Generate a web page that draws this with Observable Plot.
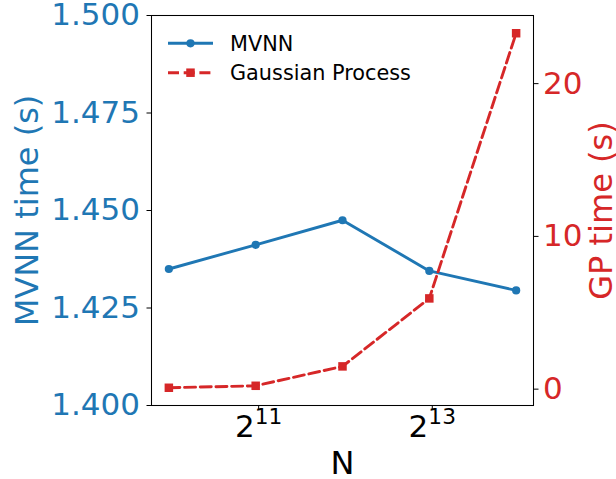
<!DOCTYPE html>
<html>
<head>
<meta charset="utf-8">
<script src="https://cdn.jsdelivr.net/npm/d3@7"></script>
<script src="https://cdn.jsdelivr.net/npm/@observablehq/plot@0.6"></script>
<style>
  body { margin: 0; background: #fff; }
  #chart { position: relative; width: 616px; height: 479px; font-family: "DejaVu Sans", sans-serif; }
  #chart > svg { position: absolute; left: 0; top: 0; }
</style>
</head>
<body>
<div id="chart"></div>
<script>
// Timing of MVNN versus a Gaussian Process as the training set size N grows.
const N = [1000, 2000, 4000, 8000, 16000];
const mvnnTime = [1.435, 1.4412, 1.4475, 1.4345, 1.4295];
const gpTime = [0.09, 0.22, 1.49, 5.94, 23.3];
const seriesNames = ["MVNN", "Gaussian Process"];
const nTicks = [2048, 8192];
const mvnnTicks = [1.4, 1.425, 1.45, 1.475, 1.5];
const gpTicks = [0, 10, 20];

const BLUE = "#1f77b4";
const RED = "#d62728";
const W = 616, H = 479;
const margins = { marginTop: 15, marginRight: 83, marginBottom: 74, marginLeft: 151 };
const LW = 2.9;
const DASH = "11,4.7";
const R_DOT = 4.1, R_SQ = 4.8;

const mvnnRows = N.map((n, i) => ({ n, t: mvnnTime[i] }));
const gpRows = N.map((n, i) => ({ n, t: gpTime[i] }));

// 5% padding around the data, in log2 space for x
const lx = d3.extent(N, (d) => Math.log2(d));
const px = (lx[1] - lx[0]) * 0.05;
const xScale = { type: "log", base: 2, domain: [2 ** (lx[0] - px), 2 ** (lx[1] + px)] };
const gy = d3.extent(gpTime);
const pg = (gy[1] - gy[0]) * 0.05;
const gpDomain = [gy[0] - pg, gy[1] + pg];

const style = { fontFamily: "DejaVu Sans, sans-serif", fontSize: "31px", background: "transparent", overflow: "visible" };

const leftPlot = Plot.plot({
  width: W, height: H, ...margins, style,
  x: xScale,
  y: { domain: [1.4, 1.5] },
  marks: [
    Plot.axisX(nTicks, { tickSize: 4.5, tickPadding: 5, tickFormat: (d) => `2^${Math.round(Math.log2(d))}`, stroke: "black", fill: "black", label: null, fontSize: 31 }),
    Plot.axisY(mvnnTicks, { tickSize: 4.5, tickPadding: 7, tickFormat: d3.format(".3f"), stroke: "black", fill: BLUE, label: null, fontSize: 31 }),
    Plot.line(mvnnRows, { x: "n", y: "t", stroke: BLUE, strokeWidth: LW }),
    Plot.dot(mvnnRows, { x: "n", y: "t", r: R_DOT, fill: BLUE }),
    Plot.frame({ stroke: "black", strokeWidth: 1.05 }),
    Plot.text(["MVNN time (s)"], { frameAnchor: "left", textAnchor: "middle", lineAnchor: "middle", rotate: -90, dx: -124, fill: BLUE, fontSize: 32 }),
    Plot.text(["N"], { frameAnchor: "bottom", textAnchor: "middle", lineAnchor: "middle", dy: 58, fill: "black", fontSize: 32 })
  ]
});

// powers of two drawn as base with a raised exponent
leftPlot.querySelectorAll('g[aria-label="x-axis tick label"] text').forEach((t) => {
  const [b, e] = t.textContent.split("^");
  t.textContent = b;
  const sup = document.createElementNS("http://www.w3.org/2000/svg", "tspan");
  sup.setAttribute("dy", "-0.6em");
  sup.setAttribute("font-size", "0.7em");
  sup.textContent = e;
  t.appendChild(sup);
});

const rightPlot = Plot.plot({
  width: W, height: H, ...margins, style,
  x: { ...xScale, axis: null },
  y: { domain: gpDomain },
  marks: [
    Plot.axisY(gpTicks, { anchor: "right", tickSize: 4.5, tickPadding: 5, stroke: "black", fill: RED, label: null, fontSize: 31 }),
    Plot.line(gpRows, { x: "n", y: "t", stroke: RED, strokeWidth: LW, strokeDasharray: DASH }),
    Plot.dot(gpRows, { x: "n", y: "t", symbol: "square", r: R_SQ, fill: RED }),
    Plot.text(["GP time (s)"], { frameAnchor: "right", textAnchor: "middle", lineAnchor: "middle", rotate: -90, dx: 68, fill: RED, fontSize: 32 })
  ]
});

const chart = document.getElementById("chart");
chart.appendChild(leftPlot);
chart.appendChild(rightPlot);

// legend in the upper left corner of the axes
const legend = d3.create("svg").attr("width", W).attr("height", H).style("pointer-events", "none");
const entries = [
  { name: seriesNames[0], color: BLUE, dash: null, symbol: d3.symbolCircle, size: Math.PI * R_DOT * R_DOT },
  { name: seriesNames[1], color: RED, dash: DASH, symbol: d3.symbolSquare, size: Math.PI * R_SQ * R_SQ }
];
const row = legend.selectAll("g").data(entries).join("g")
  .attr("transform", (d, i) => `translate(168,${43.3 + i * 29.4})`);
row.append("line").attr("x1", 0).attr("x2", 45).attr("stroke", (d) => d.color)
  .attr("stroke-width", LW).attr("stroke-dasharray", (d) => d.dash);
row.append("path").attr("transform", "translate(22.5,0)")
  .attr("d", (d) => d3.symbol(d.symbol, d.size)()).attr("fill", (d) => d.color);
row.append("text").attr("x", 62).attr("dy", "0.35em").attr("font-size", 20.8)
  .attr("font-family", "DejaVu Sans, sans-serif").attr("fill", "black").text((d) => d.name);
chart.appendChild(legend.node());
</script>
</body>
</html>
